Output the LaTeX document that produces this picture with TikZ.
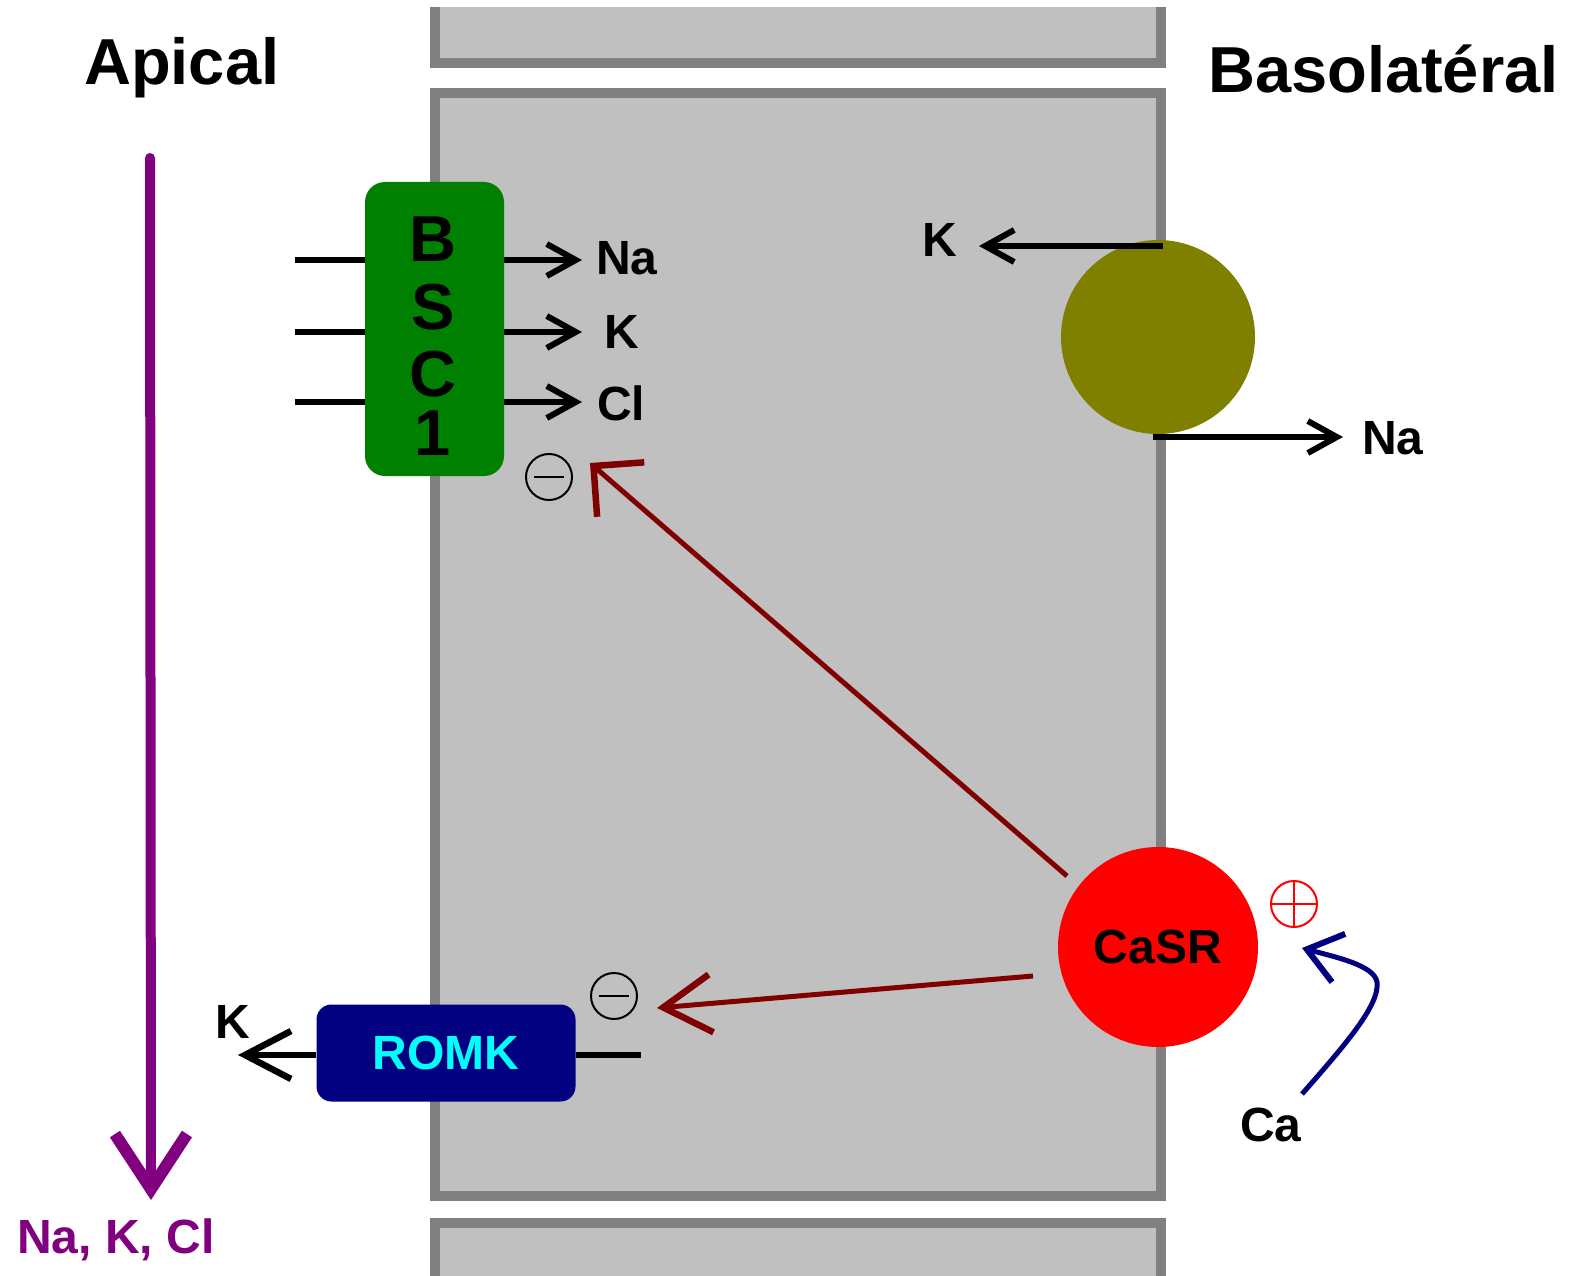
\documentclass[tikz,border=0pt]{standalone}
\usepackage{fontspec}
\setmainfont{Liberation Sans}
\usetikzlibrary{arrows.meta}
\definecolor{cellfill}{HTML}{C0C0C0}
\definecolor{cellline}{HTML}{808080}
\definecolor{bscgreen}{HTML}{008000}
\definecolor{pumpolive}{HTML}{808000}
\definecolor{inhibred}{HTML}{800000}
\definecolor{romknavy}{HTML}{000080}
\definecolor{romkcyan}{HTML}{00FFFF}
\definecolor{fluxpurple}{HTML}{800080}
\definecolor{casrred}{HTML}{FF0000}
\begin{document}
\begin{tikzpicture}[x=1pt,y=-1pt,
  cellside/.style={draw=cellline,line width=10pt},
  txt/.style={inner sep=0pt,font=\fontsize{48}{48}\selectfont\bfseries},
  bigtxt/.style={inner sep=0pt,font=\fontsize{65}{65}\selectfont\bfseries},
  flow/.style={line width=5.5pt,-{Straight Barb[length=29pt,width=32pt,line width=6pt]}},
  plainline/.style={line width=5.5pt},
  inhib/.style={draw=inhibred,line width=5pt},
  sign/.style={circle,draw,line width=2pt,minimum size=46pt,inner sep=0pt},
]
\fill[white] (0,0) rectangle (1572,1276);
\useasboundingbox (0,0) rectangle (1572,1276);

% cells
\fill[cellfill] (435,7) rectangle (1161,63);
\draw[cellside] (435,7) -- (435,63) -- (1161,63) -- (1161,7);
\filldraw[cellside,fill=cellfill] (435,93) rectangle (1161,1196);
\fill[cellfill] (435,1223) rectangle (1161,1290);
\draw[cellside] (435,1290) -- (435,1223) -- (1161,1223) -- (1161,1290);

% titles
\node[bigtxt,anchor=base west] (apical) at (84,85) {Apical};
\node[bigtxt,anchor=base west] (baso) at (1208,93) {Basolatéral};

% apical flux
\coordinate (fluxtop) at (150,158);
\coordinate (fluxtip) at (151,1200);
\draw[fluxpurple,line width=10pt,line cap=round,-{Straight Barb[length=55pt,width=72pt,line width=12pt]}] (fluxtop) -- (fluxtip);
\node[txt,text=fluxpurple,anchor=base west] (fluxlbl) at (17,1253) {Na, K, Cl};

% BSC1
\node[fill=bscgreen,rounded corners=20pt,minimum width=139pt,minimum height=294pt,inner sep=0pt] (bsc) at (434.5,329) {};
\node[bigtxt] (bscB) at (433,239) {B};
\node[bigtxt] (bscS) at (433,307) {S};
\node[bigtxt] (bscC) at (433,374) {C};
\node[bigtxt] (bsc1) at (433,433) {1};

\coordinate (inNa) at (295,260);
\coordinate (inK) at (295,332);
\coordinate (inCl) at (295,402);
\draw[plainline] (inNa) -- (inNa -| bsc.west);
\draw[plainline] (inK) -- (inK -| bsc.west);
\draw[plainline] (inCl) -- (inCl -| bsc.west);

\coordinate (outNa) at (582,260);
\coordinate (outK) at (582,332);
\coordinate (outCl) at (582,402);
\draw[flow] (bsc.east |- outNa) -- (outNa);
\draw[flow] (bsc.east |- outK) -- (outK);
\draw[flow] (bsc.east |- outCl) -- (outCl);
\node[txt,anchor=west] (lNa) at (596,258) {Na};
\node[txt,anchor=west] (lK) at (604,332) {K};
\node[txt,anchor=west] (lCl) at (597,403) {Cl};

% minus signs
\node[sign] (minus1) at (549,477) {};
\draw[line width=2pt] ([xshift=-15pt]minus1.center) -- ([xshift=15pt]minus1.center);
\node[sign] (minus2) at (614,996) {};
\draw[line width=2pt] ([xshift=-15pt]minus2.center) -- ([xshift=15pt]minus2.center);

% Na/K pump
\node[circle,fill=pumpolive,minimum size=194pt,inner sep=0pt] (pump) at (1158,337) {};
\coordinate (pumpK) at (1163,246);
\coordinate (kTip) at (979,246);
\draw[flow] (pumpK) -- (kTip);
\node[txt,anchor=east] (lK2) at (957,240) {K};
\coordinate (pumpNa) at (1153,437);
\coordinate (naTip) at (1343,437);
\draw[flow] (pumpNa) -- (naTip);
\node[txt,anchor=west] (lNa2) at (1362,438) {Na};

% CaSR
\node[circle,fill=casrred,minimum size=200pt,inner sep=0pt,txt] (casr) at (1158,947) {CaSR};

% inhibition arrows
\coordinate (tailA) at (1067,876);
\coordinate (tipA) at (590,463);
\draw[inhib,-{Straight Barb[length=36pt,width=72pt,line width=6.5pt]}] (tailA) -- (tipA);
\coordinate (tailB) at (1033,976);
\coordinate (tipB) at (657,1008);
\draw[inhib,-{Straight Barb[length=48pt,width=58pt,line width=6.5pt]}] (tailB) -- (tipB);

% plus sign
\node[sign,draw=casrred] (plus) at (1294,904) {};
\draw[casrred,line width=2pt] (plus.north) -- (plus.south);
\draw[casrred,line width=2pt] (plus.west) -- (plus.east);

% Ca activation
\node[txt] (ca) at (1271,1125) {Ca};
\coordinate (caStart) at (1302,1094);
\coordinate (caTip) at (1302,948);
\draw[romknavy,line width=5pt,-{Straight Barb[length=33pt,width=50pt,line width=6pt]}] (caStart) .. controls (1345,1045) and (1380,1005) .. (1377,982) .. controls (1374,965) and (1335,957) .. (caTip);

% ROMK
\node[fill=romknavy,rounded corners=15pt,minimum width=259pt,minimum height=97pt,txt,text=romkcyan] (romk) at (446,1053) {ROMK};
\coordinate (romkIn) at (641,1055);
\draw[plainline] (romk.east |- romkIn) -- (romkIn);
\coordinate (kOut) at (238,1055);
\draw[line width=5.5pt,-{Straight Barb[length=46pt,width=48pt,line width=6.5pt]}] (romk.west |- kOut) -- (kOut);
\node[txt] (lK3) at (233,1022) {K};
\end{tikzpicture}
\end{document}
